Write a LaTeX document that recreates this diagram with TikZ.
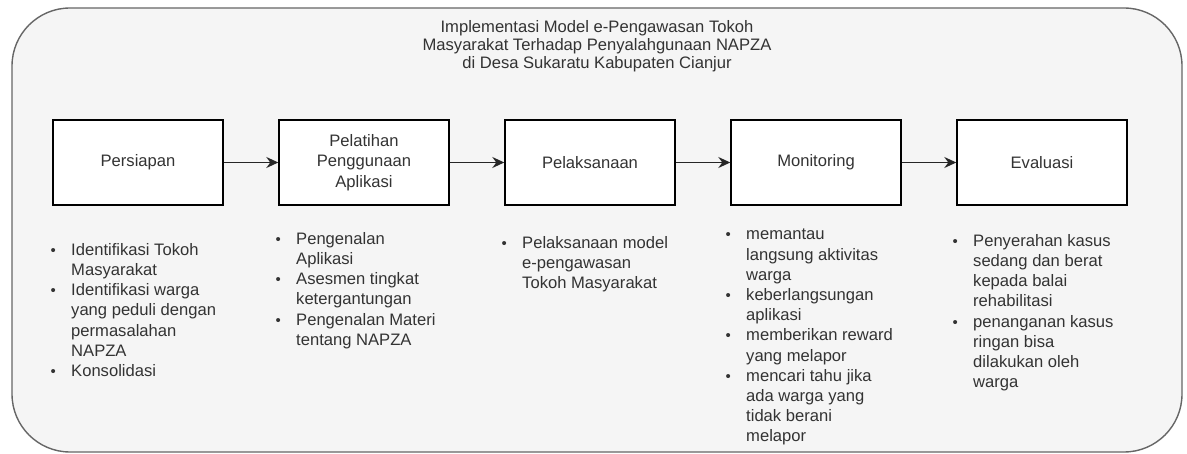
\documentclass[tikz,border=0pt]{standalone}
\usepackage{fontspec}
\setmainfont{Liberation Sans}
\usepackage{xcolor}
\usepackage{tikz}
\usetikzlibrary{arrows.meta,positioning,calc}

\definecolor{panelfill}{HTML}{F5F5F5}
\definecolor{panelline}{HTML}{666666}
\definecolor{txtgray}{HTML}{333333}

\newcommand{\bul}{\makebox[21pt][l]{\hspace*{0.3pt}\scalebox{0.9}{\textbullet}}}
\newcommand{\ind}{\hspace*{21pt}}

\tikzset{
    stage/.style={draw=black, fill=white, line width=1.4pt, minimum width=170pt,
        minimum height=85pt, inner sep=0pt, align=center, text=txtgray,
        font=\fontsize{16.6}{20.5}\selectfont},
    points/.style={anchor=north west, inner sep=0pt, align=left, text=txtgray,
        font=\fontsize{16.6}{20.2}\selectfont},
    flow/.style={-{Stealth[length=12pt,width=11pt,inset=4pt]}, line width=1.6pt, draw=black!85}
}

\begin{document}
\begin{tikzpicture}[x=1pt, y=-1pt]
    \useasboundingbox (0,0) rectangle (1187,454);

    % Panel
    \draw[fill=panelfill, draw=panelline, line width=1.4pt, rounded corners=58pt]
        (12,8) rectangle (1182,452);
    \node[align=center, text=txtgray, font=\fontsize{16.6}{18}\selectfont] (title) at (597,46)
        {Implementasi Model e-Pengawasan Tokoh\\
         Masyarakat Terhadap Penyalahgunaan NAPZA\\
         di Desa Sukaratu Kabupaten Cianjur};

    % Stages
    \node[stage] (persiapan)   at (138,162.5)  {Persiapan};
    \node[stage] (pelatihan)   at (364,162.5)  {Pelatihan\\Penggunaan\\Aplikasi};
    \node[stage] (pelaksanaan) at (590,162.5)  {Pelaksanaan};
    \node[stage] (monitoring)  at (816,162.5)  {Monitoring};
    \node[stage] (evaluasi)    at (1042,162.5) {Evaluasi};

    \draw[flow] (persiapan) -- (pelatihan);
    \draw[flow] (pelatihan) -- (pelaksanaan);
    \draw[flow] (pelaksanaan) -- (monitoring);
    \draw[flow] (monitoring) -- (evaluasi);

    % Activities
    \node[points] (listPersiapan) at (50,243)
        {\bul Identifikasi Tokoh\\
         \ind Masyarakat\\
         \bul Identifikasi warga\\
         \ind yang peduli dengan\\
         \ind permasalahan\\
         \ind NAPZA\\
         \bul Konsolidasi};
    \node[points] (listPelatihan) at (275,232)
        {\bul Pengenalan\\
         \ind Aplikasi\\
         \bul Asesmen tingkat\\
         \ind ketergantungan\\
         \bul Pengenalan Materi\\
         \ind tentang NAPZA};
    \node[points] (listPelaksanaan) at (501,236)
        {\bul Pelaksanaan model\\
         \ind e-pengawasan\\
         \ind Tokoh Masyarakat};
    \node[points] (listMonitoring) at (725,229)
        {\bul memantau\\
         \ind langsung aktivitas\\
         \ind warga\\
         \bul keberlangsungan\\
         \ind aplikasi\\
         \bul memberikan reward\\
         \ind yang melapor\\
         \bul mencari tahu jika\\
         \ind ada warga yang\\
         \ind tidak berani\\
         \ind melapor};
    \node[points] (listEvaluasi) at (952,234)
        {\bul Penyerahan kasus\\
         \ind sedang dan berat\\
         \ind kepada balai\\
         \ind rehabilitasi\\
         \bul penanganan kasus\\
         \ind ringan bisa\\
         \ind dilakukan oleh\\
         \ind warga};
\end{tikzpicture}
\end{document}
